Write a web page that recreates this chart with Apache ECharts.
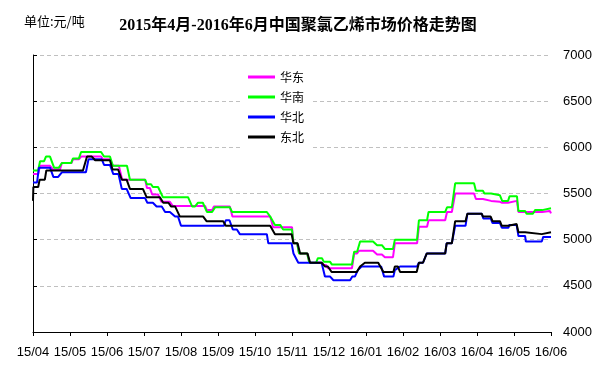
<!DOCTYPE html>
<html>
<head>
<meta charset="utf-8">
<script src="https://cdn.jsdelivr.net/npm/echarts@6.0.0/dist/echarts.min.js"></script>
<style>
  html, body { margin: 0; padding: 0; background: #fff; }
  #chart { width: 596px; height: 376px; }
</style>
</head>
<body>
<div id="chart"></div>
<script>
// 2015年4月-2016年6月 中国聚氯乙烯市场价格（元/吨）
// x 为以 2015/04 为 0 的月份偏移
const monthLabels = ["15/04", "15/05", "15/06", "15/07", "15/08", "15/09", "15/10", "15/11",
  "15/12", "16/01", "16/02", "16/03", "16/04", "16/05", "16/06"];

const seriesNames = ["华东", "华南", "华北", "东北"];

// 华东
const eastData = [
  [0, 5710], [0.14, 5710], [0.19, 5800], [0.46, 5800], [0.54, 5760], [0.73, 5760], [0.78, 5830],
  [1.04, 5830], [1.08, 5870], [1.24, 5870], [1.30, 5900], [1.84, 5900], [1.89, 5870], [2.08, 5870],
  [2.16, 5800], [2.32, 5800], [2.41, 5650], [3.03, 5650], [3.08, 5560], [3.16, 5560], [3.22, 5490],
  [3.38, 5490], [3.47, 5410], [3.70, 5410], [3.78, 5365], [4.65, 5365], [4.70, 5320], [4.84, 5320],
  [4.89, 5360], [5.32, 5360], [5.39, 5250], [6.41, 5250], [6.49, 5135], [7.00, 5135], [7.04, 4960],
  [7.14, 4960], [7.19, 4850], [7.41, 4850], [7.47, 4750], [7.81, 4750], [7.86, 4725], [7.92, 4725],
  [7.97, 4690], [8.62, 4690], [8.68, 4850], [8.76, 4850], [8.81, 4880], [9.19, 4880], [9.30, 4840],
  [9.43, 4840], [9.51, 4810], [9.73, 4810], [9.78, 4960], [10.38, 4960], [10.43, 5140], [10.65, 5140],
  [10.69, 5210], [11.14, 5210], [11.19, 5300], [11.32, 5300], [11.41, 5500], [11.92, 5500],
  [11.97, 5440], [12.16, 5440], [12.20, 5420], [12.38, 5420], [12.42, 5410], [12.62, 5410],
  [12.68, 5400], [12.84, 5400], [12.88, 5420], [13.08, 5420], [13.12, 5300], [13.76, 5300],
  [13.80, 5310], [13.97, 5310], [14, 5285]
];

// 华南
const southData = [
  [0, 5750], [0.14, 5750], [0.19, 5850], [0.30, 5850], [0.35, 5900], [0.46, 5900], [0.57, 5780],
  [0.70, 5780], [0.78, 5830], [1.03, 5830], [1.08, 5880], [1.24, 5880], [1.30, 5950], [1.84, 5950],
  [1.92, 5900], [2.08, 5900], [2.16, 5800], [2.54, 5800], [2.62, 5650], [3.03, 5650], [3.08, 5600],
  [3.19, 5600], [3.24, 5570], [3.38, 5570], [3.51, 5460], [4.19, 5460], [4.30, 5360], [4.38, 5360],
  [4.46, 5400], [4.59, 5400], [4.70, 5300], [4.84, 5300], [4.92, 5350], [5.32, 5350], [5.38, 5300],
  [6.32, 5300], [6.41, 5250], [6.46, 5250], [6.54, 5160], [6.68, 5160], [6.76, 5110], [7.00, 5110],
  [7.04, 4960], [7.14, 4960], [7.19, 4850], [7.41, 4850], [7.47, 4750], [7.65, 4750], [7.70, 4800],
  [7.81, 4800], [7.86, 4760], [8.03, 4760], [8.08, 4730], [8.62, 4730], [8.68, 4870], [8.76, 4870],
  [8.84, 4980], [9.19, 4980], [9.30, 4940], [9.43, 4940], [9.51, 4900], [9.73, 4900], [9.78, 5000],
  [10.38, 5000], [10.43, 5210], [10.65, 5210], [10.69, 5300], [11.14, 5300], [11.19, 5350],
  [11.32, 5350], [11.41, 5610], [11.92, 5610], [11.97, 5530], [12.16, 5530], [12.20, 5500],
  [12.38, 5500], [12.42, 5480], [12.62, 5480], [12.68, 5420], [12.84, 5420], [12.88, 5470],
  [13.08, 5470], [13.12, 5310], [13.30, 5310], [13.34, 5280], [13.51, 5280], [13.57, 5320],
  [13.76, 5320], [13.80, 5340], [14, 5340]
];

// 华北
const northData = [
  [0, 5620], [0.11, 5620], [0.16, 5780], [0.46, 5780], [0.55, 5680], [0.68, 5680], [0.78, 5730],
  [1.43, 5730], [1.50, 5870], [1.86, 5870], [1.92, 5810], [2.08, 5810], [2.17, 5710], [2.31, 5710],
  [2.40, 5550], [2.53, 5550], [2.64, 5450], [3.03, 5450], [3.09, 5400], [3.24, 5400], [3.34, 5360],
  [3.48, 5360], [3.57, 5300], [3.70, 5300], [3.84, 5250], [3.92, 5250], [4.00, 5150], [5.16, 5150],
  [5.21, 5210], [5.31, 5210], [5.40, 5110], [5.51, 5110], [5.59, 5060], [6.32, 5060], [6.36, 4960],
  [6.99, 4960], [7.04, 4850], [7.17, 4750], [7.80, 4750], [7.89, 4600], [8.03, 4600], [8.12, 4560],
  [8.57, 4560], [8.63, 4600], [8.70, 4600], [8.78, 4670], [8.88, 4710], [9.41, 4710], [9.49, 4600],
  [9.74, 4600], [9.78, 4670], [9.92, 4710], [10.38, 4710], [10.43, 4750], [10.54, 4750],
  [10.64, 4850], [11.14, 4850], [11.18, 4960], [11.32, 4960], [11.41, 5150], [11.69, 5150],
  [11.74, 5280], [12.13, 5280], [12.17, 5230], [12.37, 5230], [12.42, 5180], [12.62, 5180],
  [12.67, 5130], [12.85, 5130], [12.87, 5160], [13.07, 5160], [13.12, 5040], [13.30, 5040],
  [13.32, 4980], [13.75, 4980], [13.79, 5030], [14, 5030]
];

// 东北
const northeastData = [
  [0, 5420], [0.01, 5570], [0.14, 5570], [0.18, 5650], [0.32, 5650], [0.36, 5750], [1.35, 5750],
  [1.46, 5900], [1.59, 5900], [1.68, 5860], [2.08, 5860], [2.15, 5760], [2.30, 5760], [2.40, 5650],
  [2.53, 5650], [2.62, 5550], [2.97, 5550], [3.07, 5460], [3.43, 5460], [3.52, 5400], [3.66, 5400],
  [3.73, 5360], [3.84, 5360], [3.97, 5250], [4.60, 5250], [4.69, 5200], [5.14, 5200], [5.21, 5150],
  [6.41, 5150], [6.54, 5060], [6.99, 5060], [7.04, 4960], [7.15, 4960], [7.22, 4850], [7.42, 4850],
  [7.49, 4750], [7.80, 4750], [7.89, 4710], [7.97, 4710], [8.07, 4650], [8.75, 4650], [8.84, 4710],
  [8.89, 4710], [8.97, 4750], [9.33, 4750], [9.47, 4650], [9.74, 4650], [9.78, 4710], [9.86, 4710],
  [9.92, 4650], [10.37, 4650], [10.43, 4750], [10.54, 4750], [10.64, 4850], [11.14, 4850],
  [11.18, 4960], [11.32, 4960], [11.41, 5200], [11.69, 5200], [11.74, 5280], [12.13, 5280],
  [12.16, 5250], [12.37, 5250], [12.42, 5200], [12.62, 5200], [12.67, 5150], [12.85, 5150],
  [12.87, 5170], [13.07, 5170], [13.12, 5080], [13.30, 5080], [13.32, 5060], [13.75, 5060],
  [13.79, 5080], [14, 5080]
];

const yMin = 4000, yMax = 7000, yStep = 500;

const colors = ["#ff00ff", "#00ff00", "#0000ff", "#000000"];
const allData = [eastData, southData, northData, northeastData];

const chart = echarts.init(document.getElementById("chart"), null, { renderer: "canvas" });

const cjk = "'Noto Sans CJK SC', sans-serif";
const num = "'Liberation Sans', 'Noto Sans CJK SC', sans-serif";

chart.setOption({
  animation: false,
  backgroundColor: "#fff",
  title: [
    {
      text: "2015年4月-2016年6月中国聚氯乙烯市场价格走势图",
      left: "center",
      top: 18,
      padding: 0,
      textStyle: {
        fontSize: 16,
        fontWeight: "bold",
        color: "#000",
        fontFamily: "'Liberation Serif', 'Noto Sans CJK SC', serif"
      }
    },
    {
      text: "单位:元/吨",
      left: 24,
      top: 15,
      padding: 0,
      textStyle: { fontSize: 13, fontWeight: "normal", color: "#000", fontFamily: cjk }
    }
  ],
  legend: {
    orient: "vertical",
    left: 243,
    top: 66,
    padding: [5, 8, 6, 5],
    backgroundColor: "#fff",
    itemWidth: 27,
    itemHeight: 3,
    itemGap: 8,
    icon: "rect",
    textStyle: { fontSize: 12, lineHeight: 12, color: "#000", fontFamily: cjk },
    data: seriesNames
  },
  grid: { left: 33, right: 45, top: 55, bottom: 44, containLabel: false },
  xAxis: {
    type: "value",
    min: 0,
    max: monthLabels.length - 1,
    interval: 1,
    axisLine: { onZero: false, lineStyle: { color: "#000", width: 1 } },
    axisTick: { show: true, length: 4, lineStyle: { color: "#000" } },
    axisLabel: {
      margin: 14,
      fontSize: 13,
      color: "#000",
      fontFamily: num,
      formatter: v => monthLabels[Math.round(v)] || ""
    },
    splitLine: { show: false }
  },
  yAxis: [
    {
      type: "value",
      position: "left",
      min: yMin,
      max: yMax,
      interval: yStep,
      axisLine: { show: true, lineStyle: { color: "#000", width: 1 } },
      axisTick: { show: true, inside: true, length: 4, lineStyle: { color: "#000" } },
      axisLabel: { show: false },
      splitLine: { show: true, lineStyle: { color: "#c0c0c0", type: [4, 3], width: 1 } }
    },
    {
      type: "value",
      position: "right",
      min: yMin,
      max: yMax,
      interval: yStep,
      axisLine: { show: false },
      axisTick: { show: false },
      axisLabel: {
        margin: 12,
        fontSize: 13,
        color: "#000",
        fontFamily: num,
        formatter: v => String(v)
      },
      splitLine: { show: false }
    }
  ],
  series: seriesNames.map((name, i) => ({
    name: name,
    type: "line",
    yAxisIndex: 0,
    data: allData[i],
    showSymbol: false,
    symbol: "none",
    color: colors[i],
    lineStyle: { color: colors[i], width: 2 },
    z: 2 + i
  }))
});
</script>
</body>
</html>
